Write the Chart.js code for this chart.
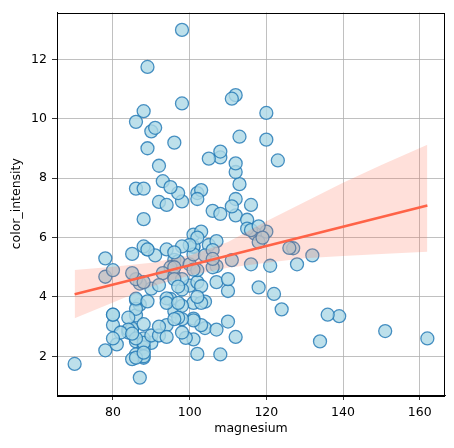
<!DOCTYPE html>
<html>
<head>
<meta charset="utf-8">
<script src="https://cdn.jsdelivr.net/npm/chart.js@4.4.3/dist/chart.umd.min.js"></script>
<style>
  html, body { margin: 0; padding: 0; background: #fff; }
  canvas { display: block; }
</style>
</head>
<body>
<canvas id="chart" width="454" height="448"></canvas>
<script>
// wine data: magnesium vs color_intensity
const magnesium = [
  127,100,101,113,118,112,96,121,97,98,105,95,89,91,102,112,120,115,108,116,
  126,102,101,95,96,124,93,94,107,96,101,106,104,132,110,100,110,98,98,128,
  117,90,101,103,107,111,102,101,103,108,92,94,111,115,118,116,118,102,108,
  88,101,100,94,87,104,98,78,78,110,151,103,86,87,139,101,97,86,112,136,
  101,86,86,78,85,94,99,90,88,84,70,81,86,80,88,98,162,134,85,88,
  88,97,88,98,86,85,90,80,84,92,94,107,88,103,88,84,85,86,108,80,
  87,96,119,102,86,82,85,86,92,88,80,
  122,104,98,106,85,94,89,96,88,101,96,89,97,92,112,102,80,86,92,113,
  123,112,116,98,103,93,89,97,98,89,88,107,106,106,90,88,111,88,105,112,
  96,86,91,95,102,120,120,96
];
const colorIntensity = [
  5.64,4.38,5.68,7.8,4.32,6.75,5.25,5.05,5.2,7.22,5.75,5.0,5.6,5.4,7.5,7.3,6.2,6.6,8.7,5.1,
  5.65,4.5,3.8,3.93,3.52,3.58,4.8,3.95,4.5,4.7,5.7,6.9,3.84,5.4,4.2,5.1,4.6,4.25,3.7,5.1,
  6.13,4.28,5.43,4.36,5.04,5.24,4.9,6.1,6.2,8.9,7.2,5.6,7.05,6.3,5.85,6.25,6.38,6.0,6.8,
  1.95,3.27,5.75,3.8,4.45,2.95,4.6,5.3,4.68,3.17,2.85,3.05,3.38,3.74,3.35,3.21,3.8,4.6,2.65,3.4,
  2.57,2.5,3.9,2.2,4.8,3.05,2.62,2.45,2.6,2.8,1.74,2.4,3.6,3.05,2.15,3.25,2.6,2.5,2.9,4.5,
  2.3,3.3,2.45,2.8,2.06,2.94,2.7,3.4,3.3,2.7,2.65,2.9,2.0,3.8,3.08,2.9,1.9,1.95,2.06,3.4,
  1.28,3.25,6.0,2.08,2.6,2.8,2.76,3.94,3.0,2.12,2.6,
  4.1,5.4,5.7,5.0,5.45,7.1,3.85,5.0,5.7,4.92,4.6,5.6,4.35,4.4,8.21,4.0,4.9,7.65,8.42,9.4,
  8.6,10.8,7.1,10.52,7.6,7.9,9.01,7.5,13.0,11.75,7.65,5.88,5.58,5.28,9.58,6.62,10.68,10.26,8.66,8.5,
  5.5,9.9,9.7,7.7,7.3,10.2,9.3,9.2
];

// confidence band
const bandX    = [70, 80, 90, 100, 110, 120, 130, 140, 150, 162];
const bandHigh = [4.91, 5.02, 5.15, 5.4, 5.85, 6.55, 7.2, 7.85, 8.45, 9.13];
const bandLow  = [3.28, 3.81, 4.35, 4.72, 4.98, 5.15, 5.3, 5.38, 5.45, 5.52];

const xTicks = [80, 100, 120, 140, 160];
const yTicks = [2, 4, 6, 8, 10, 12];

// least squares fit
const n = magnesium.length;
const mx = magnesium.reduce((a, b) => a + b, 0) / n;
const my = colorIntensity.reduce((a, b) => a + b, 0) / n;
let sxy = 0, sxx = 0;
for (let i = 0; i < n; i++) {
  sxy += (magnesium[i] - mx) * (colorIntensity[i] - my);
  sxx += (magnesium[i] - mx) ** 2;
}
const slope = sxy / sxx;
const intercept = my - slope * mx;
const xMin = Math.min(...magnesium), xMax = Math.max(...magnesium);
const yMin = Math.min(...colorIntensity), yMax = Math.max(...colorIntensity);
const fitLine = [xMin, xMax].map(x => ({ x: x, y: intercept + slope * x }));

const points = magnesium.map((m, i) => ({ x: m, y: colorIntensity[i] }));

const frame = {
  id: 'frame',
  afterDraw(chart) {
    const { ctx, chartArea: a } = chart;
    ctx.save();
    ctx.strokeStyle = '#000';
    ctx.lineWidth = 1;
    ctx.strokeRect(Math.round(a.left) + 0.5, Math.round(a.top) + 0.5,
      Math.round(a.right - a.left) - 1, Math.round(a.bottom - a.top));
    ctx.restore();
  }
};

Chart.defaults.font.family = '"DejaVu Sans", sans-serif';
Chart.defaults.font.size = 12.5;
Chart.defaults.color = '#000';

new Chart(document.getElementById('chart'), {
  type: 'scatter',
  data: {
    datasets: [
      {
        type: 'line',
        data: fitLine,
        borderColor: 'rgb(255,99,71)',
        borderWidth: 2.6,
        pointRadius: 0,
        fill: false
      },
      {
        type: 'line',
        data: bandX.map((x, i) => ({ x: x, y: bandHigh[i] })),
        borderWidth: 0,
        borderColor: 'rgba(0,0,0,0)',
        pointRadius: 0,
        backgroundColor: 'rgba(255,99,71,0.2)',
        fill: '+1'
      },
      {
        type: 'line',
        data: bandX.map((x, i) => ({ x: x, y: bandLow[i] })),
        borderWidth: 0,
        borderColor: 'rgba(0,0,0,0)',
        pointRadius: 0,
        fill: false
      },
      {
        data: points,
        pointRadius: 6.5,
        pointBorderWidth: 1.3,
        backgroundColor: 'rgba(173,216,230,0.8)',
        borderColor: 'rgba(31,119,180,0.8)'
      }
    ]
  },
  options: {
    responsive: false,
    animation: false,
    layout: { padding: { top: 10, right: 9, left: 0, bottom: 0 } },
    plugins: {
      legend: { display: false },
      tooltip: { enabled: false }
    },
    scales: {
      x: {
        type: 'linear',
        min: xMin - (xMax - xMin) * 0.05,
        max: xMax + (xMax - xMin) * 0.05,
        afterBuildTicks: s => { s.ticks = xTicks.map(v => ({ value: v })); },
        afterFit: s => { s.height = 53; },
        grid: { color: '#b0b0b0', lineWidth: 0.8, tickColor: '#000', tickLength: 5 },
        border: { color: '#000', width: 1 },
        ticks: { padding: 5 },
        title: { display: true, text: 'magnesium', padding: { top: 0, bottom: 11.5 } }
      },
      y: {
        type: 'linear',
        min: yMin - (yMax - yMin) * 0.05,
        max: yMax + (yMax - yMin) * 0.05,
        afterBuildTicks: s => { s.ticks = yTicks.map(v => ({ value: v })); },
        afterFit: s => { s.width = 57; },
        grid: { color: '#b0b0b0', lineWidth: 0.8, tickColor: '#000', tickLength: 5 },
        border: { color: '#000', width: 1 },
        ticks: { padding: 5 },
        title: { display: true, text: 'color_intensity', padding: { top: 9.5, bottom: 0 } }
      }
    }
  },
  plugins: [frame]
});
</script>
</body>
</html>
